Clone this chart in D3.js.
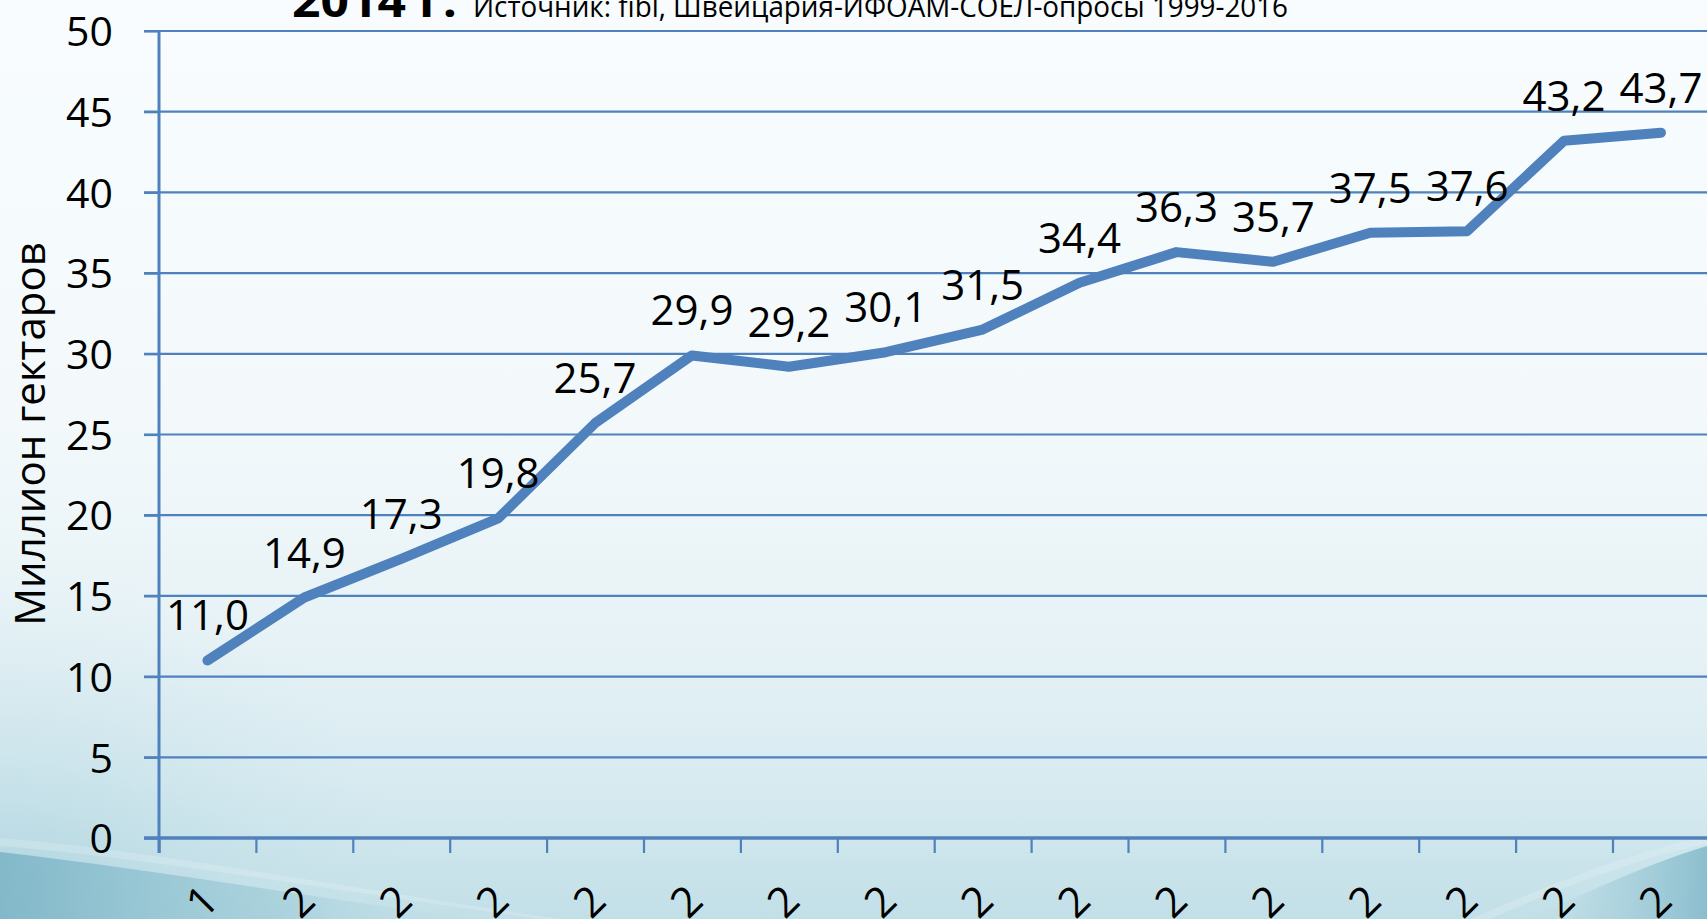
<!DOCTYPE html>
<html>
<head>
<meta charset="utf-8">
<script src="https://cdn.jsdelivr.net/npm/d3@7"></script>
<style>
  html, body { margin: 0; padding: 0; overflow: hidden; }
  body { width: 1707px; height: 919px; }
  svg { display: block; }
</style>
</head>
<body>
<svg id="chart" width="1707" height="919"></svg>
<script>
// ---- data ----
const years = ["1999","2000","2001","2002","2003","2004","2005","2006","2007","2008","2009","2010","2011","2012","2013","2014"];
const values = [11.0, 14.9, 17.3, 19.8, 25.7, 29.9, 29.2, 30.1, 31.5, 34.4, 36.3, 35.7, 37.5, 37.6, 43.2, 43.7];
const yTicks = [0, 5, 10, 15, 20, 25, 30, 35, 40, 45, 50];
const titleBold = "2014 г.";
const titleSource = "Источник: fibl, Швейцария-ИФОАМ-СОЕЛ-опросы 1999-2016";
const yAxisTitle = "Миллион гектаров";

// ---- layout ----
const W = 1707, H = 919;
const plotL = 159, plotR = 1709.4, plotT = 31, plotB = 838;
const blue = "#4f81bd";
const font = "'Open Sans', 'Noto Sans', sans-serif";

const svg = d3.select("#chart");
const defs = svg.append("defs");

// background
const bg = defs.append("linearGradient").attr("id", "bg").attr("x1", 0).attr("y1", 0).attr("x2", 0).attr("y2", 1);
[[0, "#f8fcfe"], [0.45, "#f3f9fb"], [0.7, "#e6f2f6"], [0.85, "#d8ebf1"], [1, "#c2dfe7"]]
  .forEach(([o, c]) => bg.append("stop").attr("offset", o).attr("stop-color", c));
svg.append("rect").attr("width", W).attr("height", H).attr("fill", "url(#bg)");

// soft bluish tint in the lower-left corner
const le = defs.append("radialGradient").attr("id", "le").attr("cx", 0).attr("cy", 1).attr("r", 1);
[[0, "#9cc9d6", 0.6], [0.6, "#b9dae3", 0.25], [1, "#c9e3ea", 0]]
  .forEach(([o, c, a]) => le.append("stop").attr("offset", o).attr("stop-color", c).attr("stop-opacity", a));
svg.append("rect").attr("x", 0).attr("y", 560).attr("width", 420).attr("height", 359).attr("fill", "url(#le)");

// bottom-left swoosh
const sw = defs.append("linearGradient").attr("id", "sw").attr("x1", 0).attr("y1", 0).attr("x2", 1).attr("y2", 0);
[[0, "#80b7c8", 0.95], [0.6, "#98c8d5", 0.55], [1, "#b7d9e3", 0]]
  .forEach(([o, c, a]) => sw.append("stop").attr("offset", o).attr("stop-color", c).attr("stop-opacity", a));
svg.append("path")
  .attr("d", "M0,852 C140,868 300,895 470,919 L0,919 Z")
  .attr("fill", "url(#sw)");
svg.append("path")
  .attr("d", "M0,838 C150,850 330,885 560,919 L540,919 C330,890 150,858 0,846 Z")
  .attr("fill", "#e4f2f6").attr("opacity", 0.3);

// bottom-right swoosh
const sw2 = defs.append("linearGradient").attr("id", "sw2").attr("x1", 1).attr("y1", 0).attr("x2", 0).attr("y2", 0);
[[0, "#84bacb", 0.9], [0.6, "#a2cdd9", 0.5], [1, "#bcdce5", 0]]
  .forEach(([o, c, a]) => sw2.append("stop").attr("offset", o).attr("stop-color", c).attr("stop-opacity", a));
svg.append("path")
  .attr("d", "M1707,846 C1660,860 1600,885 1530,919 L1707,919 Z")
  .attr("fill", "url(#sw2)");
svg.append("path")
  .attr("d", "M1707,836 C1640,850 1560,880 1470,919 L1490,919 C1570,884 1645,856 1707,844 Z")
  .attr("fill", "#e4f2f6").attr("opacity", 0.3);

// scales
const x = d3.scaleBand().domain(years).range([plotL, plotR]).paddingInner(0).paddingOuter(0);
const xb = d3.scaleLinear().domain([0, years.length]).range([plotL, plotR]);
const y = d3.scaleLinear().domain([0, 50]).range([plotB, plotT]);

// gridlines
svg.append("g").selectAll("line").data(yTicks.filter(t => t !== 0)).join("line")
  .attr("x1", plotL - 15).attr("x2", plotR)
  .attr("y1", d => y(d)).attr("y2", d => y(d))
  .attr("stroke", blue).attr("stroke-width", 2.2);

// y axis
const yAxis = svg.append("g").attr("transform", `translate(${plotL},0)`)
  .call(d3.axisLeft(y).tickValues(yTicks).tickSize(15).tickPadding(31).tickFormat(d3.format("d")));
yAxis.select(".domain").attr("stroke", blue).attr("stroke-width", 3).attr("d", `M0,${plotT}V${plotB + 15}`);
yAxis.selectAll(".tick line").attr("stroke", blue).attr("stroke-width", 2.2);
yAxis.selectAll(".tick text").attr("fill", "#000").style("font-family", font).style("font-size", "41px").attr("dy", "0.36em");

// x axis (ticks at category boundaries)
const xAxis = svg.append("g").attr("transform", `translate(0,${plotB})`)
  .call(d3.axisBottom(xb).tickValues(d3.range(0, years.length + 1)).tickSize(15).tickFormat(""));
xAxis.select(".domain").attr("stroke", blue).attr("stroke-width", 3.5).attr("d", `M${plotL - 15},0H${plotR}`);
xAxis.selectAll(".tick line").attr("stroke", blue).attr("stroke-width", 2.2);

// x labels: rotated, wrapped one char per line (only the first line falls inside the picture)
const xl = svg.append("g").selectAll("g").data(years).join("g")
  .attr("transform", d => `translate(${x(d) + x.bandwidth() / 2 - 6},901) rotate(-45)`);
xl.append("text")
  .attr("text-anchor", "middle")
  .style("font-family", font).style("font-size", "42px").attr("fill", "#000")
  .each(function (d) {
    const t = d3.select(this);
    d.split("").forEach((ch, i) => {
      t.append("tspan").attr("x", 0).attr("dy", i === 0 ? "0.36em" : "1.2em").text(ch);
    });
  });

// line
const line = d3.line().x((d, i) => x(years[i]) + x.bandwidth() / 2).y(d => y(d));
svg.append("path").datum(values)
  .attr("d", line)
  .attr("fill", "none").attr("stroke", blue).attr("stroke-width", 10)
  .attr("stroke-linecap", "round").attr("stroke-linejoin", "round");

// data labels
svg.append("g").selectAll("text").data(values).join("text")
  .attr("x", (d, i) => x(years[i]) + x.bandwidth() / 2)
  .attr("y", d => y(d) - 30)
  .attr("text-anchor", "middle")
  .style("font-family", font).style("font-size", "42px").attr("fill", "#000")
  .text(d => d.toFixed(1).replace(".", ","));

// y axis title
svg.append("text")
  .attr("transform", "translate(45,434) rotate(-90)")
  .attr("text-anchor", "middle")
  .style("font-family", font).style("font-size", "42px").attr("fill", "#000")
  .text(yAxisTitle);

// title (cut off at top)
svg.append("text").attr("x", 292).attr("y", 17)
  .style("font-family", font).style("font-size", "44px").style("font-weight", "bold").attr("fill", "#000")
  .attr("textLength", 165).attr("lengthAdjust", "spacingAndGlyphs")
  .text(titleBold);
svg.append("text").attr("x", 473).attr("y", 17)
  .style("font-family", font).style("font-size", "29px").attr("fill", "#000")
  .attr("textLength", 815).attr("lengthAdjust", "spacingAndGlyphs")
  .text(titleSource);
</script>
</body>
</html>
